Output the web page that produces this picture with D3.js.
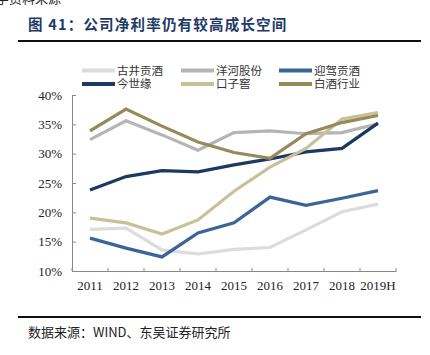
<!DOCTYPE html>
<html><head><meta charset="utf-8">
<script src="https://cdn.jsdelivr.net/npm/d3@7"></script>
<style>body{margin:0;background:#fff}svg{display:block}</style>
</head><body>
<svg id="c" width="430" height="355"></svg>
<script>
const years = ["2011","2012","2013","2014","2015","2016","2017","2018","2019H"];
const seriesNames = ["古井贡酒","洋河股份","迎驾贡酒","今世缘","口子窖","白酒行业"];
const gujing   = [17.1,17.3,13.6,12.9,13.7,14.0,17.0,20.1,21.4];
const yanghe   = [32.4,35.6,33.2,30.6,33.6,33.9,33.4,33.6,35.1];
const yingjia  = [15.6,13.9,12.4,16.5,18.2,22.6,21.2,22.4,23.7];
const jinshiyuan = [23.8,26.1,27.1,26.9,28.1,29.1,30.3,30.9,35.2];
const kouzijiao = [19.0,18.2,16.3,18.7,23.6,27.7,30.9,35.9,37.0];
const baijiu   = [33.9,37.6,34.7,32.0,30.2,29.2,33.4,35.3,36.5];
const yTicks = [10,15,20,25,30,35,40];
const colors = ["#dcdcdc","#b5b5b5","#3b6498","#1c3962","#c9c099","#958a58"];
const allSeries = [gujing,yanghe,yingjia,jinshiyuan,kouzijiao,baijiu];

const svg = d3.select("#c");
const serif = "'Liberation Serif','Times New Roman',serif";
const cjk = "'Noto Sans CJK SC','Liberation Serif',serif";
const mixed = "'Liberation Serif','Noto Sans CJK SC',serif";

// cropped text at very top
svg.append("text").attr("x",-4).attr("y",3).attr("font-family",cjk).attr("font-size",13).attr("fill","#222").text("字资料来源");

svg.append("text").attr("x",28).attr("y",30).attr("font-family",cjk).attr("font-weight","bold")
  .attr("font-size",14.5).attr("fill","#1f3a66").attr("letter-spacing","1.2px").text("图 41：公司净利率仍有较高成长空间");
svg.append("line").attr("x1",18).attr("x2",421).attr("y1",41).attr("y2",41).attr("stroke","#111").attr("stroke-width",2);
svg.append("line").attr("x1",18).attr("x2",421).attr("y1",317).attr("y2",317).attr("stroke","#111").attr("stroke-width",2);
svg.append("text").attr("x",28).attr("y",337).attr("font-family",cjk).attr("font-size",13).attr("fill","#222")
  .text("数据来源：WIND、东吴证券研究所");

const x = d3.scaleBand().domain(years).range([72,396]);
const y = d3.scaleLinear().domain([10,40]).range([271,95]);

const gy = svg.append("g").attr("transform","translate(72,0)")
  .call(d3.axisLeft(y).tickValues(yTicks).tickSize(-4).tickPadding(10).tickFormat(d=>d+"%"));
gy.selectAll("text").attr("font-family",serif).attr("font-size",13).attr("fill","#222");
gy.select(".domain").attr("stroke","#888");
gy.selectAll(".tick line").attr("stroke","#888");

const gx = svg.append("g").attr("transform","translate(0,271)")
  .call(d3.axisBottom(x).tickSize(0).tickPadding(10));
gx.selectAll("text").attr("font-family",serif).attr("font-size",13).attr("fill","#222");
gx.select(".domain").attr("stroke","#888");
gx.selectAll(".bt").data(years.concat(["end"])).enter().append("line")
  .attr("x1",(d,i)=>i<years.length?x(d):x.range()[1]).attr("x2",(d,i)=>i<years.length?x(d):x.range()[1])
  .attr("y1",0).attr("y2",-3).attr("stroke","#888");

const line = d3.line().x((d,i)=>x(years[i])+x.bandwidth()/2).y(d=>y(d));
allSeries.forEach((s,k)=>{
  svg.append("path").datum(s).attr("d",line).attr("fill","none")
    .attr("stroke",colors[k]).attr("stroke-width",3.2).attr("stroke-linejoin","miter");
});

// legend
const lx = [82,181,279], ly = [70.5,84];
seriesNames.forEach((n,k)=>{
  const cx = lx[k%3], cy = ly[Math.floor(k/3)];
  svg.append("line").attr("x1",cx).attr("x2",cx+33).attr("y1",cy).attr("y2",cy)
    .attr("stroke",colors[k]).attr("stroke-width",4);
  svg.append("text").attr("x",cx+35).attr("y",cy+4.3).attr("font-family",mixed).attr("font-size",11.5)
    .attr("fill","#333").text(n);
});
</script>
</body></html>
